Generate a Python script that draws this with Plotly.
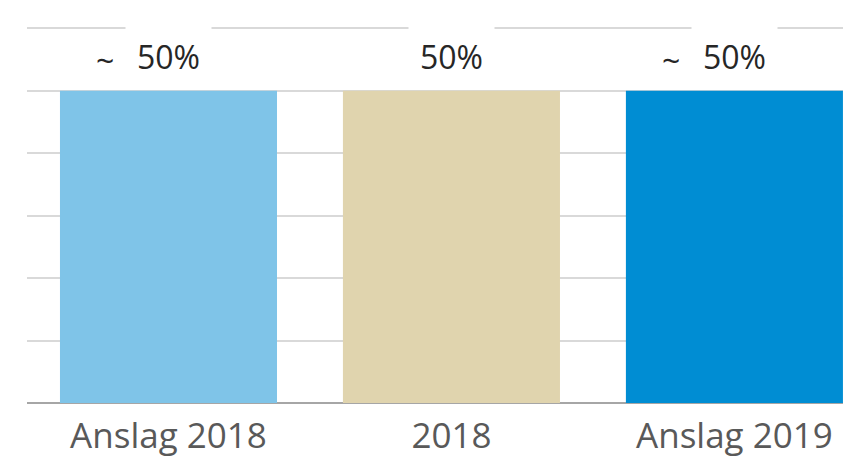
import plotly.graph_objects as go

CATEGORIES = ["Anslag 2018", "2018", "Anslag 2019"]
VALUES = [50, 50, 50]
PREFIXES = ["~", "", "~"]
COLORS = ["#7FC4E8", "#E0D4AE", "#008DD3"]

TEXT = "#262626"
TICK = "#595959"
GRID = "#D9D9D9"
AXIS = "#A6A6A6"
FONT = "Open Sans"

# page body has an 8px margin, so the figure is drawn 8px smaller and offset
fig = go.Figure()
fig.add_trace(go.Bar(
    x=list(range(len(CATEGORIES))), y=VALUES,
    marker=dict(color=COLORS, line=dict(width=0)),
    width=0.767,
    hoverinfo="skip",
    showlegend=False,
))

annotations = []
for i, (val, pre) in enumerate(zip(VALUES, PREFIXES)):
    # white box behind the value hides the top gridline, like the original
    annotations.append(dict(
        x=i, y=val, xref="x", yref="y",
        text=f"{val}%", showarrow=False,
        yanchor="bottom", yshift=1,
        font=dict(family=FONT, size=32, color=TEXT),
        bgcolor="white", borderpad=11,
    ))
    if pre:
        annotations.append(dict(
            x=i, y=val, xref="x", yref="y",
            text=pre, showarrow=False,
            xanchor="right", xshift=-52,
            yanchor="bottom", yshift=7,
            font=dict(family=FONT, size=32, color=TEXT),
        ))

fig.update_layout(
    width=843, height=462,
    margin=dict(l=19, r=0, t=19, b=67),
    plot_bgcolor="white", paper_bgcolor="white",
    annotations=annotations,
    xaxis=dict(
        range=[-0.5, 2.412],
        tickmode="array",
        tickvals=list(range(len(CATEGORIES))),
        ticktext=CATEGORIES,
        showgrid=False, zeroline=False,
        showline=False,
        ticks="", ticklen=0,
        ticklabelstandoff=9,
        tickfont=dict(family=FONT, size=35, color=TICK),
    ),
    yaxis=dict(
        range=[0, 60.2], dtick=10,
        showticklabels=False,
        showgrid=True, gridcolor=GRID, gridwidth=1.5,
        zeroline=True, zerolinecolor=AXIS, zerolinewidth=2,
        showline=False,
    ),
)

fig.write_html("out.html")
